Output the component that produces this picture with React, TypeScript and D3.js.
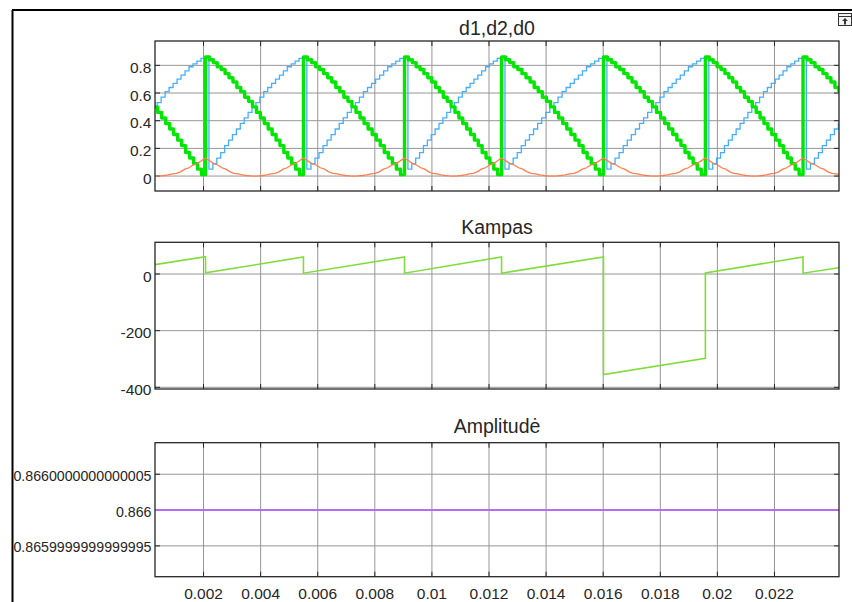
import React, { useRef, useEffect } from "react";
import * as d3 from "d3";

// ---- time axis (s) ----
const tStart = 0.0003;
const tEnd = 0.02426;
const xTicks = [0.002, 0.004, 0.006, 0.008, 0.01, 0.012, 0.014, 0.016, 0.018, 0.02, 0.022];

// ---- d1,d2,d0 ----
// switching instants read from the vertical jumps (first/last lie outside the view)
const sectorStarts = [-0.00142, 0.00207, 0.0055, 0.00904, 0.01244, 0.01601, 0.01958, 0.0230, 0.02649];
// held samples inside one sector (same shape repeats every sector)
const d1Sector = [0.86, 0.84, 0.82, 0.79, 0.77, 0.74, 0.71, 0.68, 0.64, 0.61, 0.57, 0.54, 0.5,
  0.46, 0.42, 0.38, 0.34, 0.3, 0.26, 0.22, 0.17, 0.13, 0.09, 0.05, 0.01];
const d2Sector = [0.05, 0.09, 0.13, 0.17, 0.22, 0.26, 0.3, 0.34, 0.38, 0.42, 0.46, 0.5, 0.53,
  0.57, 0.61, 0.64, 0.67, 0.7, 0.73, 0.76, 0.79, 0.81, 0.83, 0.85, 0.86];
const d0Sector = [0.13, 0.11, 0.09, 0.08, 0.06, 0.05, 0.03, 0.02, 0.015, 0.009, 0.004, 0.001, 0,
  0.001, 0.004, 0.009, 0.015, 0.02, 0.03, 0.05, 0.06, 0.08, 0.09, 0.11, 0.13];
const d2Lag = 0.00012;
const dTicks = [0, 0.2, 0.4, 0.6, 0.8];
const dTickLabels = ["0", "0.2", "0.4", "0.6", "0.8"];

// ---- Kampas ----
const kampasT = [0.0003, 0.00207, 0.00207, 0.0055, 0.0055, 0.00904, 0.00904, 0.01244, 0.01244,
  0.01601, 0.01601, 0.01958, 0.01958, 0.0230, 0.0230, 0.02426];
const kampasV = [33, 61, 4, 60, 3, 60, 3, 60, 3, 60, -355, -298, 4, 60, 3, 22];
const kampasTicks = [-400, -200, 0];
const kampasTickLabels = ["-400", "-200", "0"];

// ---- Amplitudė ----
const ampBase = 0.866;
const ampT = [0.0003, 0.02426];
const ampV = [0.866, 0.866];
const ampTickOffsets = [5e-16, 0, -5e-16];
const ampTickLabels = ["0.8660000000000005", "0.866", "0.8659999999999995"];

const FONT = "'Liberation Sans', Arial, Helvetica, sans-serif";

const App = () => {
  const svgRef = useRef(null);
  const W = 852;
  const H = 602;
  const left = 155;
  const right = 839;

  useEffect(() => {
    const svg = d3.select(svgRef.current);
    svg.selectAll("*").remove();

    const x = d3.scaleLinear().domain([tStart, tEnd]).range([left, right]);

    // outer window frame
    svg.append("line").attr("x1", 12.5).attr("x2", 12.5).attr("y1", 10).attr("y2", H)
      .attr("stroke", "#000").attr("stroke-width", 2);
    svg.append("line").attr("x1", 12).attr("x2", W).attr("y1", 10).attr("y2", 10)
      .attr("stroke", "#000").attr("stroke-width", 2);
    // small undock icon
    const ic = svg.append("g").attr("transform", "translate(838.5,13.5)");
    ic.append("rect").attr("width", 13).attr("height", 12).attr("fill", "#f4f4f4")
      .attr("stroke", "#333").attr("stroke-width", 1);
    ic.append("line").attr("x1", 0).attr("x2", 13).attr("y1", 3).attr("y2", 3).attr("stroke", "#333");
    ic.append("path").attr("d", "M6.5,4.5 L3.5,7.5 L5.5,7.5 L5.5,11 L7.5,11 L7.5,7.5 L9.5,7.5 Z").attr("fill", "#333");

    const panel = (id, title, top, bottom, domain, ticks, labels, titleY, labelSize, labelDy, showX) => {
      const y = d3.scaleLinear().domain(domain).range([bottom, top]);
      const g = svg.append("g");
      g.append("clipPath").attr("id", id).append("rect")
        .attr("x", left).attr("y", top).attr("width", right - left).attr("height", bottom - top);

      // grid
      g.append("g").selectAll("line").data(xTicks).join("line")
        .attr("x1", d => x(d)).attr("x2", d => x(d)).attr("y1", top).attr("y2", bottom)
        .attr("stroke", "#969696").attr("stroke-width", 1);
      g.append("g").selectAll("line").data(ticks).join("line")
        .attr("x1", left).attr("x2", right).attr("y1", d => y(d)).attr("y2", d => y(d))
        .attr("stroke", "#969696").attr("stroke-width", 1);

      // inner tick marks
      const tk = g.append("g").attr("stroke", "#262626").attr("stroke-width", 1);
      xTicks.forEach(d => {
        tk.append("line").attr("x1", x(d)).attr("x2", x(d)).attr("y1", top).attr("y2", top + 5);
        tk.append("line").attr("x1", x(d)).attr("x2", x(d)).attr("y1", bottom).attr("y2", bottom - 5);
      });
      ticks.forEach(d => {
        tk.append("line").attr("x1", left).attr("x2", left + 5).attr("y1", y(d)).attr("y2", y(d));
        tk.append("line").attr("x1", right).attr("x2", right - 5).attr("y1", y(d)).attr("y2", y(d));
      });

      // y labels
      g.append("g").selectAll("text").data(ticks).join("text")
        .attr("x", left - 3.5).attr("y", d => y(d) + labelDy)
        .attr("text-anchor", "end").attr("font-family", FONT).attr("font-size", labelSize)
        .attr("fill", "#262626").text((d, i) => labels[i]);

      if (showX) {
        g.append("g").selectAll("text").data(xTicks).join("text")
          .attr("x", d => x(d)).attr("y", bottom + 22.5)
          .attr("text-anchor", "middle").attr("font-family", FONT).attr("font-size", 15.5)
          .attr("fill", "#262626").text(d => String(+d.toFixed(3)));
      }

      g.append("text").attr("x", (left + right) / 2).attr("y", titleY)
        .attr("text-anchor", "middle").attr("font-family", FONT).attr("font-size", 19.5)
        .attr("fill", "#262626").text(title);

      const plot = g.append("g").attr("clip-path", `url(#${id})`);
      // border last
      g.append("rect").attr("x", left).attr("y", top).attr("width", right - left).attr("height", bottom - top)
        .attr("fill", "none").attr("stroke", "#262626").attr("stroke-width", 1.3);
      return { y, plot };
    };

    // --- panel 1: d1,d2,d0 ---
    const p1 = panel("clip1", "d1,d2,d0", 41, 191, [-0.108, 0.976], dTicks, dTickLabels, 35, 15.5, 7.5, false);

    const stairs = (values, lag) => {
      const pts = [];
      for (let i = 0; i < sectorStarts.length - 1; i++) {
        const s = sectorStarts[i];
        const len = sectorStarts[i + 1] - s;
        values.forEach((v, k) => pts.push([s + lag + (k * len) / values.length, v]));
      }
      pts.push([sectorStarts[sectorStarts.length - 1] + lag, values[values.length - 1]]);
      return pts;
    };
    const bump = values => {
      const pts = [];
      for (let i = 0; i < sectorStarts.length - 1; i++) {
        const s = sectorStarts[i];
        const len = sectorStarts[i + 1] - s;
        values.forEach((v, k) => pts.push([s + (k * len) / (values.length - 1), v]));
      }
      return pts;
    };

    const stepLine = d3.line().x(d => x(d[0])).y(d => p1.y(d[1])).curve(d3.curveStepAfter);
    const lin1 = d3.line().x(d => x(d[0])).y(d => p1.y(d[1]));

    p1.plot.append("path").datum(stairs(d2Sector, d2Lag))
      .attr("fill", "none").attr("stroke", "#45aefc").attr("stroke-width", 1.3).attr("d", stepLine);
    p1.plot.append("path").datum(stairs(d1Sector, 0))
      .attr("fill", "none").attr("stroke", "#00e600").attr("stroke-width", 3.4)
      .attr("stroke-linejoin", "round").attr("d", stepLine);
    p1.plot.append("path").datum(bump(d0Sector))
      .attr("fill", "none").attr("stroke", "#ff7f4f").attr("stroke-width", 1.3).attr("d", lin1);

    // --- panel 2: Kampas ---
    const p2 = panel("clip2", "Kampas", 242.3, 389, [-406, 112], kampasTicks, kampasTickLabels, 234.3, 15.5, 7.5, false);
    p2.plot.append("path").datum(kampasT.map((t, i) => [t, kampasV[i]]))
      .attr("fill", "none").attr("stroke", "#7fdc3a").attr("stroke-width", 1.6)
      .attr("d", d3.line().x(d => x(d[0])).y(d => p2.y(d[1])));

    // --- panel 3: Amplitudė (offsets from 0.866) ---
    const p3 = panel("clip3", "Amplitudė", 442.7, 576.7, [-9.3e-16, 9.4e-16], ampTickOffsets, ampTickLabels, 432.7, 14.2, 6.5, true);
    p3.plot.append("path").datum(ampT.map((t, i) => [t, ampV[i] - ampBase]))
      .attr("fill", "none").attr("stroke", "#b46cf5").attr("stroke-width", 2)
      .attr("d", d3.line().x(d => x(d[0])).y(d => p3.y(d[1])));
  });

  return (
    <div style={{ position: "absolute", left: 0, top: 0 }}>
      <svg ref={svgRef} width={W} height={H} style={{ display: "block", background: "#fff" }}></svg>
    </div>
  );
};

export default App;
